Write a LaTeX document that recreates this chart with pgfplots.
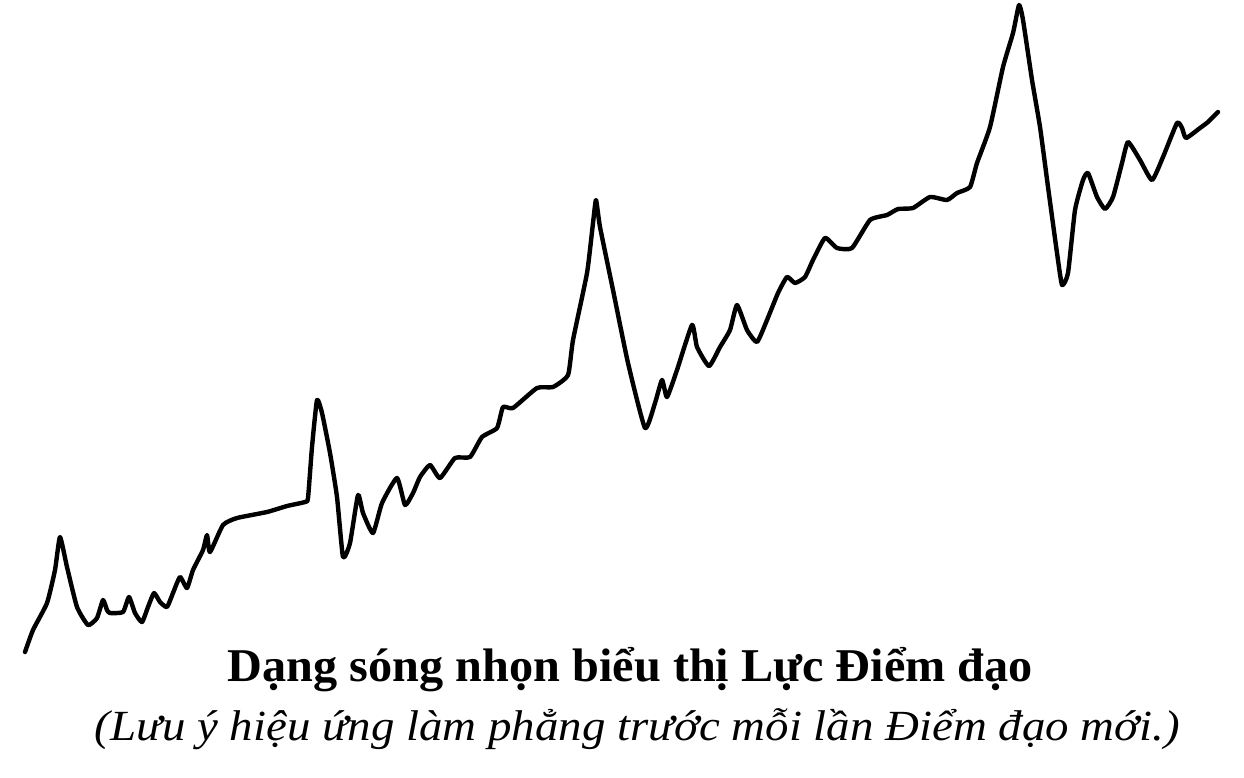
\documentclass[border=0pt]{standalone}
\usepackage{pgfplots}
\pgfplotsset{compat=1.18}
\usepackage{fontspec}
\setmainfont{Liberation Serif}
\begin{document}
\begin{tikzpicture}
\begin{axis}[
    width=622pt, height=388.5pt,
    scale only axis,
    hide axis,
    xmin=0, xmax=1244,
    ymin=0, ymax=777,
    y dir=reverse,
    clip=false,
    ]
\addplot [black, line width=2.2pt, line join=round, line cap=round, smooth, tension=0.3] coordinates {
 (25,652) (33,630) (47,603) (55,570) (60,537) (67,567) (77,607) (88,625)
 (97,618) (103,600) (107,610) (110,613) (123,612) (129,597) (135,613) (142,622)
 (148,607) (154,593) (160,602) (167,607) (173,593) (180,577) (187,588) (193,570)
 (203,550) (207,535) (210,552) (223,525) (237,518) (267,512) (287,506) (305,502)
 (308,498) (312,447) (317,400) (322,413) (330,453) (337,497) (343,557) (350,543)
 (358,495) (363,513) (373,533) (382,503) (397,478) (405,505) (413,493) (420,477)
 (430,465) (440,478) (455,458) (470,457) (482,437) (497,428) (503,407) (513,408)
 (537,388) (553,387) (568,375) (573,340) (587,273) (593,223) (596,200) (600,227)
 (613,290) (628,363) (645,428) (655,403) (662,380) (667,397) (677,370) (692,325)
 (697,347) (709,366) (720,347) (730,330) (737,305) (747,330) (757,342) (767,320)
 (778,293) (787,277) (795,283) (805,277) (813,260) (825,238) (837,248) (852,248)
 (870,220) (887,215) (898,209) (913,208) (930,197) (947,200) (957,193) (970,187)
 (977,163) (990,127) (1003,67) (1013,33) (1019,5) (1023,20) (1032,80) (1040,127)
 (1048,187) (1057,253) (1062,285) (1068,273) (1075,210) (1083,180) (1088,173) (1097,197)
 (1105,209) (1113,197) (1122,163) (1128,142) (1140,160) (1152,180) (1163,157) (1177,123)
 (1182,128) (1186,138) (1200,128) (1208,122) (1218,112)
};
\node[anchor=base, inner sep=0pt] at (axis cs:630.5,681)
  {\resizebox{402.5pt}{\height}{\fontsize{23.5}{28}\selectfont\bfseries Dạng sóng nhọn biểu thị Lực Điểm đạo}};
\node[anchor=base, inner sep=0pt] at (axis cs:637.5,740)
  {\resizebox{542.5pt}{\height}{\fontsize{21.5}{26}\selectfont\itshape (Lưu ý hiệu ứng làm phẳng trước mỗi lần Điểm đạo mới.)}};
\path (rel axis cs:0,0) rectangle (rel axis cs:1,1);
\end{axis}
\end{tikzpicture}
\end{document}
